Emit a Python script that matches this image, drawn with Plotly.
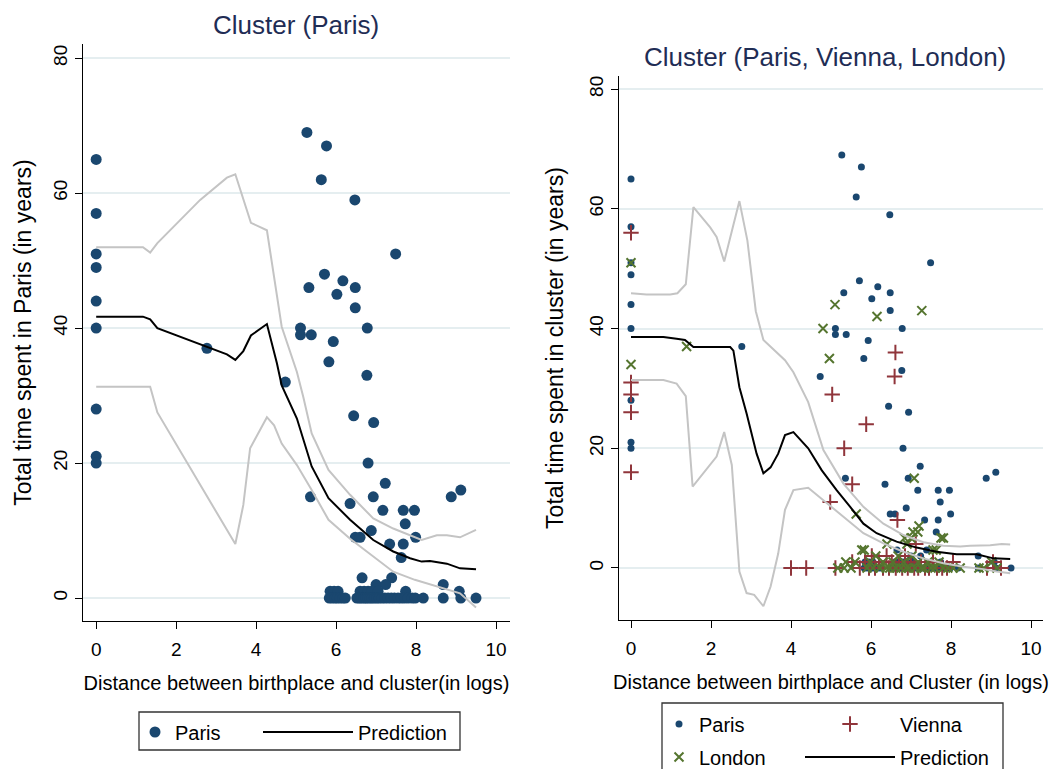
import plotly.graph_objects as go

# ---------------- data ----------------
paris_x = [0, 0, 0, 0, 0, 0, 0, 0, 0,
           2.77, 5.27, 5.76, 5.63, 6.47, 7.49, 5.71, 6.17, 5.32, 6.48, 6.02, 6.48, 5.11, 6.78,
           5.11, 5.38, 5.93, 5.82, 6.77, 4.73, 6.44, 6.94, 6.80, 7.23, 5.36, 6.93, 8.88, 9.12,
           6.35, 7.17, 7.68, 7.96, 7.73, 6.88, 6.48, 6.60, 7.99, 7.34, 7.68, 7.63, 6.65, 7.39,
           7.00, 7.24, 8.68, 9.08, 7.74,
           5.85, 5.95, 6.05, 6.60, 6.70, 6.80, 6.90, 7.05,
           5.83, 5.90, 5.97, 6.03, 6.10, 6.17, 6.23, 6.52, 6.58, 6.63, 6.69, 6.74, 6.79, 6.85,
           6.90, 6.96, 7.02, 7.08, 7.15, 7.22, 7.30, 7.38, 7.46, 7.55, 7.63, 7.71, 7.80, 7.90,
           7.98, 8.18, 8.68, 9.12, 9.50]
paris_y = [65, 57, 51, 49, 44, 40, 28, 21, 20,
           37, 69, 67, 62, 59, 51, 48, 47, 46, 46, 45, 43, 40, 40,
           39, 39, 38, 35, 33, 32, 27, 26, 20, 17, 15, 15, 15, 16,
           14, 13, 13, 13, 11, 10, 9, 9, 9, 8, 8, 6, 3, 3,
           2, 2, 2, 1, 1,
           1, 1, 1, 1, 1, 1, 1, 1,
           0, 0, 0, 0, 0, 0, 0, 0, 0, 0, 0, 0, 0, 0,
           0, 0, 0, 0, 0, 0, 0, 0, 0, 0, 0, 0, 0, 0,
           0, 0, 0, 0, 0]

vienna_x = [0, 0, 0, 0, 0,
            6.61, 6.59, 5.03, 5.88, 5.33, 5.53, 4.98, 6.66, 7.12, 4.00, 4.38, 5.11, 5.53, 6.39,
            5.72, 5.85, 5.95, 6.02, 6.10, 6.20, 6.30, 6.45, 6.52, 6.62, 6.70, 6.78, 6.85, 6.92,
            7.00, 7.08, 7.18, 7.25, 7.35, 7.45, 7.55, 7.65, 7.78, 7.90, 8.05, 8.90, 9.05, 9.25]
vienna_y = [56, 31, 29, 26, 16,
            36, 32, 29, 24, 20, 14, 11, 8, 4, 0, 0, 0, 1, 2,
            0, 1, 0, 2, 0, 1, 0, 0, 1, 0, 1, 0, 2, 0,
            1, 0, 0, 1, 0, 0, 1, 0, 0, 0, 1, 0, 1, 0]

london_x = [0, 0,
            1.39, 5.10, 4.80, 4.96, 6.15, 7.27, 7.08, 5.63, 7.20, 7.17, 7.00, 7.81, 5.83, 7.63,
            5.17, 5.33, 5.37, 5.77, 6.84, 7.05, 7.75, 7.55, 8.70, 8.82, 9.02, 9.15, 8.23,
            5.50, 5.60, 5.90, 5.98, 6.05, 6.12, 6.22, 6.30, 6.38, 6.47, 6.55, 6.62, 6.68, 6.75,
            6.82, 6.88, 6.95, 7.02, 7.10, 7.18, 7.25, 7.33, 7.42, 7.50, 7.60, 7.70, 7.80, 7.92,
            8.05, 6.40, 6.90]
london_y = [51, 34,
            37, 44, 40, 35, 42, 43, 15, 9, 7, 6, 5, 5, 3, 3,
            0, 0, 1, 3, 5, 6, 5, 3, 0, 0, 1, 0, 0,
            0, 1, 0, 1, 0, 2, 0, 1, 0, 0, 1, 0, 2, 0,
            1, 0, 0, 2, 0, 1, 0, 0, 1, 0, 0, 1, 0, 0,
            0, 4, 4]

# left panel: prediction and confidence band
predL_x = [0, 1.17, 1.35, 1.53, 3.27, 3.48, 3.68, 3.87, 4.27, 4.52, 4.64, 5.02, 5.39, 5.81,
           6.35, 6.93, 7.43, 7.85, 8.14, 8.35, 8.77, 9.10, 9.50]
predL_y = [41.7, 41.7, 41.3, 40.0, 36.1, 35.3, 36.6, 38.9, 40.6, 34.8, 31.5, 26.6, 19.5, 14.8,
           11.6, 8.6, 6.9, 5.9, 5.4, 5.5, 5.1, 4.4, 4.25]
upL_x = [0, 1.17, 1.35, 1.53, 2.60, 3.27, 3.48, 3.87, 4.27, 4.64, 5.02, 5.18, 5.39, 5.81,
         6.35, 6.93, 7.43, 8.14, 8.52, 8.77, 9.10, 9.50]
upL_y = [52.0, 52.0, 51.2, 52.6, 59.0, 62.3, 62.8, 55.6, 54.5, 40.2, 33.5, 29.8, 24.4, 19.0,
         15.3, 11.8, 10.3, 8.6, 9.3, 9.3, 9.0, 10.1]
loL_x = [0, 1.35, 1.53, 3.48, 3.68, 3.85, 4.27, 4.45, 4.64, 5.02, 5.39, 5.81, 6.35, 6.93,
         7.43, 7.97, 8.52, 9.10, 9.50]
loL_y = [31.3, 31.3, 27.5, 8.0, 13.8, 22.2, 26.8, 25.6, 22.9, 19.7, 16.0, 11.6, 8.8, 6.1,
         3.9, 2.7, 1.7, 0.7, -1.4]

# right panel: prediction and confidence band
predR_x = [0, 0.81, 1.14, 1.35, 1.56, 2.48, 2.56, 2.71, 2.89, 3.14, 3.31, 3.49, 3.68, 3.85,
           4.06, 4.43, 4.77, 5.14, 5.48, 5.81, 6.14, 6.64, 7.14, 7.64, 8.14, 8.64, 9.06, 9.48]
predR_y = [38.6, 38.6, 38.3, 38.1, 36.9, 36.9, 36.3, 30.2, 25.8, 19.1, 15.8, 16.8, 19.1, 22.2,
           22.7, 20.0, 16.3, 13.0, 10.2, 7.4, 5.8, 4.4, 3.4, 2.7, 2.3, 2.3, 1.6, 1.5]
upR_x = [0, 0.39, 0.98, 1.16, 1.37, 1.56, 1.98, 2.14, 2.33, 2.71, 2.91, 3.12, 3.31, 3.67,
         3.85, 4.06, 4.43, 4.81, 5.31, 5.81, 6.31, 6.81, 7.31, 7.81, 8.23, 8.48, 8.98, 9.27, 9.48]
upR_y = [45.9, 45.7, 45.7, 45.9, 47.4, 60.3, 56.9, 55.3, 51.2, 61.3, 54.7, 42.9, 38.1, 35.8,
         34.7, 32.7, 27.7, 19.7, 14.1, 10.2, 7.4, 5.5, 4.3, 3.7, 3.6, 3.7, 3.8, 4.0, 3.9]
loR_x = [0, 0.81, 1.14, 1.37, 1.54, 2.14, 2.33, 2.52, 2.71, 2.89, 3.08, 3.31, 3.49, 3.68,
         3.85, 4.06, 4.43, 4.81, 5.31, 5.81, 6.31, 6.81, 7.31, 7.81, 8.31, 8.81, 9.14, 9.48]
loR_y = [31.4, 31.4, 30.8, 28.7, 13.6, 18.6, 22.7, 17.2, -0.6, -4.2, -4.5, -6.4, -3.1, 2.4,
         9.7, 13.0, 13.4, 11.3, 8.6, 5.8, 4.1, 2.7, 1.6, 0.8, 0.2, -0.2, -0.6, -0.9]

x_ticks = [0, 2, 4, 6, 8, 10]
y_ticks = [0, 20, 40, 60, 80]

titles = ["Cluster (Paris)", "Cluster (Paris, Vienna, London)"]
x_titles = ["Distance between birthplace and cluster(in logs)",
            "Distance between birthplace and Cluster (in logs)"]
y_titles = ["Total time spent in Paris (in years)",
            "Total time spent in cluster (in years)"]

# ---------------- style ----------------
W, H = 1062, 769
FONT = "Liberation Sans, Arial, Helvetica, sans-serif"
NAVY = "#1a476f"
MAROON = "#90353b"
GREEN = "#55752f"
CI = "#c4c4c4"
TITLE_C = "#1f2d55"

def px_x(p):
    return p / W

def px_y(p):
    return (H - p) / H

fig = go.Figure()

# left panel
fig.add_trace(go.Scatter(x=paris_x, y=paris_y, mode="markers", name="Paris",
                         marker=dict(color=NAVY, size=11, symbol="circle"),
                         xaxis="x", yaxis="y", legend="legend"))
fig.add_trace(go.Scatter(x=upL_x, y=upL_y, mode="lines", showlegend=False,
                         line=dict(color=CI, width=2), xaxis="x", yaxis="y", hoverinfo="skip"))
fig.add_trace(go.Scatter(x=loL_x, y=loL_y, mode="lines", showlegend=False,
                         line=dict(color=CI, width=2), xaxis="x", yaxis="y", hoverinfo="skip"))
fig.add_trace(go.Scatter(x=predL_x, y=predL_y, mode="lines", name="Prediction",
                         line=dict(color="black", width=2), xaxis="x", yaxis="y",
                         legend="legend2"))

# right panel
fig.add_trace(go.Scatter(x=paris_x, y=paris_y, mode="markers", name="Paris",
                         marker=dict(color=NAVY, size=7, symbol="circle"),
                         xaxis="x2", yaxis="y2", legend="legend3"))
fig.add_trace(go.Scatter(x=vienna_x, y=vienna_y, mode="markers", name="Vienna",
                         marker=dict(color=MAROON, size=11, symbol="cross-thin",
                                     line=dict(color=MAROON, width=2)),
                         xaxis="x2", yaxis="y2", legend="legend4"))
fig.add_trace(go.Scatter(x=london_x, y=london_y, mode="markers", name="London",
                         marker=dict(color=GREEN, size=9, symbol="x-thin",
                                     line=dict(color=GREEN, width=2)),
                         xaxis="x2", yaxis="y2", legend="legend5"))
fig.add_trace(go.Scatter(x=upR_x, y=upR_y, mode="lines", showlegend=False,
                         line=dict(color=CI, width=2), xaxis="x2", yaxis="y2", hoverinfo="skip"))
fig.add_trace(go.Scatter(x=loR_x, y=loR_y, mode="lines", showlegend=False,
                         line=dict(color=CI, width=2), xaxis="x2", yaxis="y2", hoverinfo="skip"))
fig.add_trace(go.Scatter(x=predR_x, y=predR_y, mode="lines", name="Prediction",
                         line=dict(color="black", width=2), xaxis="x2", yaxis="y2",
                         legend="legend6"))

def xax(domain, rng, title, anchor):
    return dict(domain=domain, range=rng, anchor=anchor, tickvals=x_ticks,
                ticks="outside", ticklen=7, tickwidth=1.3, tickcolor="black",
                ticklabelstandoff=4,
                showline=True, linecolor="black", linewidth=1.3,
                showgrid=False, zeroline=False,
                tickfont=dict(size=19, color="black", family=FONT),
                title=dict(text=title, font=dict(size=20, color="black", family=FONT),
                           standoff=17))

def yax(domain, rng, title, anchor, standoff):
    return dict(domain=domain, range=rng, anchor=anchor, tickvals=y_ticks,
                ticks="outside", ticklen=7, tickwidth=1.3, tickcolor="black",
                tickangle=-90,
                showline=True, linecolor="black", linewidth=1.3,
                showgrid=True, gridcolor="#e5eef0", gridwidth=1.5, zeroline=False,
                tickfont=dict(size=19, color="black", family=FONT),
                title=dict(text=title, font=dict(size=23, color="black", family=FONT),
                           standoff=standoff))

legend_common = dict(bgcolor="rgba(0,0,0,0)", borderwidth=0,
                     font=dict(size=20, color="black", family=FONT),
                     xanchor="left", yanchor="middle", orientation="v")

fig.update_layout(
    width=W, height=H,
    margin=dict(l=0, r=0, t=0, b=0, autoexpand=False),
    paper_bgcolor="white", plot_bgcolor="white",
    font=dict(family=FONT, color="black"),
    xaxis=xax([px_x(83), px_x(510)], [-0.33, 10.35], x_titles[0], "y"),
    yaxis=yax([px_y(621), px_y(44)], [-3.4, 82.1], y_titles[0], "x", 12),
    xaxis2=xax([px_x(619), px_x(1043)], [-0.3, 10.3], x_titles[1], "y2"),
    yaxis2=yax([px_y(620), px_y(76)], [-8.7, 82.2], y_titles[1], "x2", 16),
    legend=dict(**legend_common, x=px_x(135), y=px_y(732), itemwidth=30),
    legend2=dict(**legend_common, x=px_x(258), y=px_y(732), itemwidth=90),
    legend3=dict(**legend_common, x=px_x(659), y=px_y(724), itemwidth=30),
    legend4=dict(**legend_common, x=px_x(800), y=px_y(724), itemwidth=90),
    legend5=dict(**legend_common, x=px_x(659), y=px_y(757), itemwidth=30),
    legend6=dict(**legend_common, x=px_x(800), y=px_y(757), itemwidth=90),
    annotations=[
        dict(text=titles[0], x=px_x(296), y=px_y(25), xref="paper", yref="paper",
             xanchor="center", yanchor="middle", showarrow=False,
             font=dict(size=26, color=TITLE_C, family=FONT)),
        dict(text=titles[1], x=px_x(825), y=px_y(57), xref="paper", yref="paper",
             xanchor="center", yanchor="middle", showarrow=False,
             font=dict(size=26, color=TITLE_C, family=FONT)),
    ],
    shapes=[
        dict(type="rect", xref="paper", yref="paper",
             x0=px_x(139), x1=px_x(460), y0=px_y(750), y1=px_y(712),
             line=dict(color="#333333", width=1.3), fillcolor="rgba(0,0,0,0)"),
        dict(type="rect", xref="paper", yref="paper",
             x0=px_x(662), x1=px_x(1003), y0=px_y(790), y1=px_y(703),
             line=dict(color="#333333", width=1.3), fillcolor="rgba(0,0,0,0)"),
    ],
)

fig.write_html("out.html", config={"displayModeBar": False},
               post_script="document.body.style.margin='0px';document.body.style.overflow='hidden';")
